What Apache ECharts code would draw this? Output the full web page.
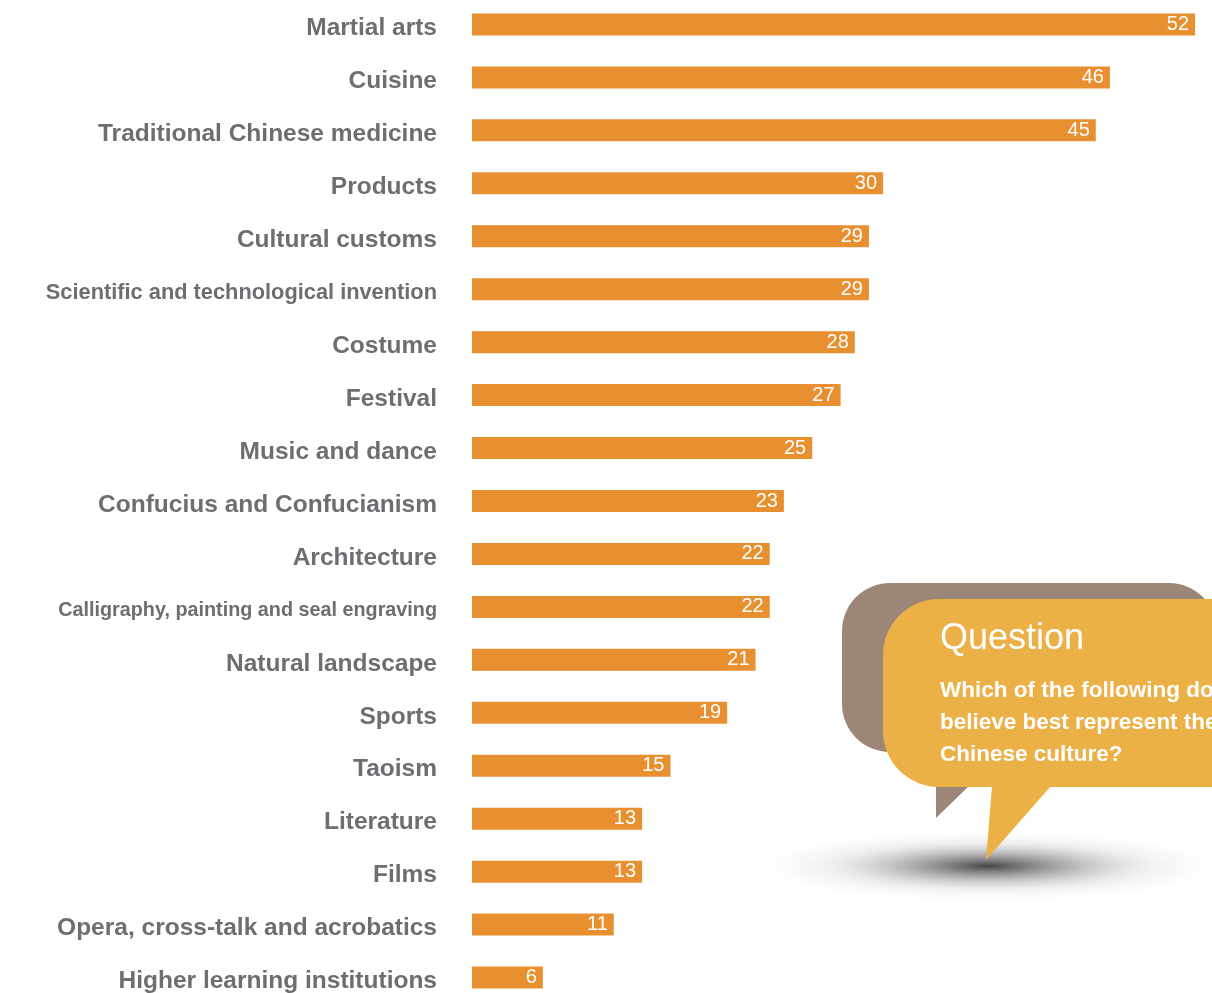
<!DOCTYPE html>
<html>
<head>
<meta charset="utf-8">
<script src="https://cdn.jsdelivr.net/npm/echarts@6/dist/echarts.min.js"></script>
<style>
  html, body { margin: 0; padding: 0; background: #ffffff; }
  #chart { width: 1212px; height: 993px; }
</style>
</head>
<body>
<div id="chart"></div>
<script>
const categories = [
  'Martial arts', 'Cuisine', 'Traditional Chinese medicine', 'Products',
  'Cultural customs', 'Scientific and technological invention', 'Costume',
  'Festival', 'Music and dance', 'Confucius and Confucianism', 'Architecture',
  'Calligraphy, painting and seal engraving', 'Natural landscape', 'Sports',
  'Taoism', 'Literature', 'Films', 'Opera, cross-talk and acrobatics',
  'Higher learning institutions'
];
const values = [52, 46, 45, 30, 29, 29, 28, 27, 25, 23, 22, 22, 21, 19, 15, 13, 13, 11, 6];
const labelStyleKey = {
  'Scientific and technological invention': 's',
  'Calligraphy, painting and seal engraving': 'c'
};
const questionTitle = 'Question';
const questionText = 'Which of the following do you\nbelieve best represent the\nChinese culture?';

const labelFont = "'Liberation Sans Narrow', 'Arial Narrow', 'Liberation Sans', Arial, sans-serif";
const chart = echarts.init(document.getElementById('chart'));

function richStyle(size) {
  return { fontFamily: labelFont, fontWeight: 'bold', fontSize: size, color: '#6d6e71', padding: [8, 0, 0, 0] };
}

chart.setOption({
  animation: false,
  backgroundColor: '#ffffff',
  grid: { left: 472, right: 17, top: -2, bottom: -11, containLabel: false, outerBoundsMode: 'none' },
  xAxis: {
    type: 'value', min: 1, max: 52, show: false
  },
  yAxis: {
    type: 'category', data: categories, inverse: true,
    axisLine: { show: false }, axisTick: { show: false }, splitLine: { show: false },
    axisLabel: {
      margin: 35,
      formatter: function (v) { return '{' + (labelStyleKey[v] || 'b') + '|' + v + '}'; },
      rich: { b: richStyle(24.5), s: richStyle(21.8), c: richStyle(19.8) }
    }
  },
  series: [{
    type: 'bar', data: values, barWidth: 22, clip: true,
    itemStyle: { color: '#E88F2F' },
    label: {
      show: true, position: 'insideRight', distance: 6,
      color: '#ffffff', fontSize: 20, fontFamily: "'Liberation Sans', Arial, sans-serif"
    }
  }],
  graphic: [
    {
      type: 'circle', x: 988, y: 866, scaleY: 0.15, silent: true,
      shape: { cx: 0, cy: 0, r: 250 },
      style: {
        fill: {
          type: 'radial', x: 0.5, y: 0.5, r: 0.5,
          colorStops: [
            { offset: 0, color: 'rgba(50,50,50,0.9)' },
            { offset: 0.25, color: 'rgba(95,95,95,0.6)' },
            { offset: 0.6, color: 'rgba(170,170,170,0.22)' },
            { offset: 1, color: 'rgba(255,255,255,0)' }
          ]
        }
      }
    },
    {
      type: 'rect', silent: true,
      shape: { x: 842, y: 583, width: 375, height: 169, r: 48 },
      style: { fill: '#9C8677' }
    },
    {
      type: 'polygon', silent: true,
      shape: { points: [[936, 745], [970, 785], [936, 818]] },
      style: { fill: '#9C8677' }
    },
    {
      type: 'rect', silent: true,
      shape: { x: 883, y: 599, width: 420, height: 188, r: 56 },
      style: { fill: '#ECB146' }
    },
    {
      type: 'polygon', silent: true,
      shape: { points: [[992, 786], [1051, 786], [986, 860]] },
      style: { fill: '#ECB146' }
    },
    {
      type: 'text', silent: true, x: 940, y: 621,
      style: {
        text: questionTitle, fill: '#ffffff', fontSize: 36,
        fontFamily: "'Liberation Sans', Arial, sans-serif"
      }
    },
    {
      type: 'text', silent: true, x: 940, y: 675,
      style: {
        text: questionText, fill: '#ffffff', fontSize: 22.5, fontWeight: 'bold', lineHeight: 32,
        fontFamily: labelFont
      }
    }
  ]
});
</script>
</body>
</html>
